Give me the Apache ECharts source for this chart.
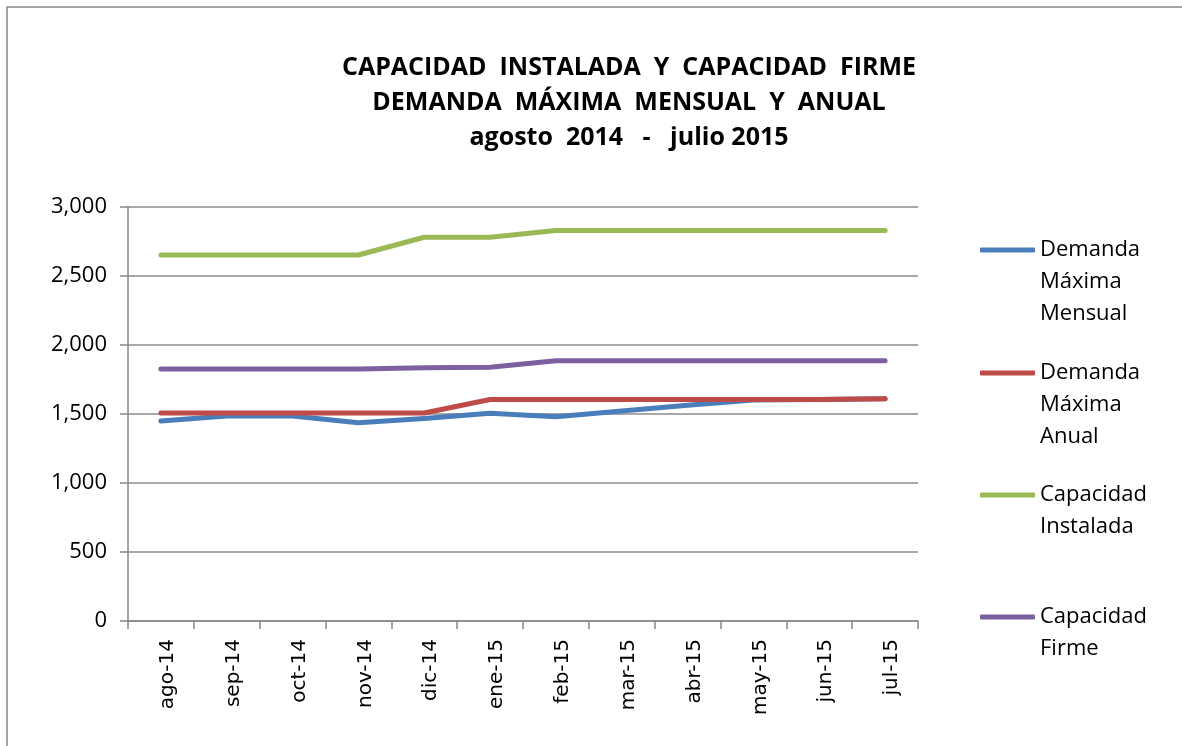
<!DOCTYPE html>
<html>
<head>
<meta charset="utf-8">
<title>Capacidad instalada y demanda</title>
<script src="https://cdn.jsdelivr.net/npm/echarts@6/dist/echarts.min.js"></script>
<style>
  html, body { margin: 0; padding: 0; background: #fff; }
  #chart { width: 1182px; height: 746px; }
</style>
</head>
<body>
<div id="chart"></div>
<script>
// categorias (meses)
var meses = ['ago-14', 'sep-14', 'oct-14', 'nov-14', 'dic-14', 'ene-15',
  'feb-15', 'mar-15', 'abr-15', 'may-15', 'jun-15', 'jul-15'];

// valores
var demandaMensual = [1449, 1486, 1486, 1437, 1468, 1505, 1480, 1522, 1563, 1602, 1605, 1610];
var demandaAnual = [1507, 1507, 1507, 1507, 1507, 1605, 1605, 1605, 1605, 1605, 1605, 1610];
var capInstalada = [2652, 2652, 2652, 2652, 2781, 2781, 2830, 2830, 2830, 2830, 2830, 2830];
var capFirme = [1826, 1826, 1826, 1826, 1836, 1838, 1886, 1886, 1886, 1886, 1886, 1886];

var nombres = ['Demanda Máxima Mensual', 'Demanda Máxima Anual', 'Capacidad Instalada', 'Capacidad Firme'];
// texto de la leyenda partido en lineas
var nombresLeyenda = [
  ['Demanda', 'Máxima', 'Mensual'],
  ['Demanda', 'Máxima', 'Anual'],
  ['Capacidad', 'Instalada'],
  ['Capacidad', 'Firme']
];
var colores = ['#4a7ebb', '#be4b48', '#98b954', '#7d60a0'];

var chart = echarts.init(document.getElementById('chart'));

var lh = 32;
var centrosLeyenda = [250, 373, 495, 617];

// una leyenda por serie, asi la linea queda junto a la primera linea del texto
var legends = nombres.map(function (n, i) {
  var lineas = nombresLeyenda[i];
  var total = lineas.length * 2 - 1;
  var pre = '';
  for (var k = 1; k < lineas.length; k++) pre += '\n';
  var texto = pre + lineas.join('\n');
  return {
    data: [n],
    orient: 'vertical',
    left: 980,
    top: centrosLeyenda[i] - total * lh / 2,
    padding: 0,
    icon: 'roundRect',
    itemWidth: 55,
    itemHeight: 5,
    itemGap: 0,
    formatter: function () { return texto; },
    textStyle: {
      fontFamily: 'Open Sans',
      fontSize: 22,
      lineHeight: lh,
      color: '#000'
    }
  };
});

var series = [demandaMensual, demandaAnual, capInstalada, capFirme].map(function (d, i) {
  return {
    name: nombres[i],
    type: 'line',
    data: d,
    symbol: 'none',
    color: colores[i],
    lineStyle: { width: 5, color: colores[i], cap: 'round', join: 'round' },
    animation: false
  };
});

var option = {
  animation: false,
  title: {
    text: 'CAPACIDAD  INSTALADA  Y  CAPACIDAD  FIRME\nDEMANDA  MÁXIMA  MENSUAL  Y  ANUAL\nagosto  2014   -   julio 2015',
    left: 629,
    top: 50,
    padding: 0,
    textAlign: 'center',
    textStyle: {
      fontFamily: 'Open Sans',
      fontWeight: 'bold',
      fontSize: 25,
      lineHeight: 35,
      color: '#000'
    }
  },
  legend: legends,
  graphic: [{
    type: 'rect',
    shape: { x: 7, y: 7, width: 1300, height: 1000 },
    style: { fill: 'none', stroke: '#888', lineWidth: 1.5 },
    silent: true
  }],
  grid: { left: 128, right: 264, top: 207, bottom: 125 },
  xAxis: {
    type: 'category',
    data: meses,
    boundaryGap: true,
    axisLine: { lineStyle: { color: '#868686', width: 1.5 } },
    axisTick: { show: true, length: 8, interval: 0, lineStyle: { color: '#868686', width: 1.5 } },
    axisLabel: {
      rotate: 90,
      interval: 0,
      margin: 18,
      verticalAlign: 'top',
      lineHeight: 14,
      fontFamily: 'DejaVu Sans',
      fontSize: 20,
      color: '#000'
    },
    splitLine: { show: false }
  },
  yAxis: {
    type: 'value',
    min: 0,
    max: 3000,
    interval: 500,
    axisLine: { show: true, lineStyle: { color: '#868686', width: 1.5 } },
    axisTick: { show: true, length: 8, lineStyle: { color: '#868686', width: 1.5 } },
    axisLabel: {
      margin: 21,
      fontFamily: 'Open Sans',
      fontSize: 22,
      color: '#000',
      formatter: function (v) { return v.toLocaleString('en-US'); }
    },
    splitLine: { lineStyle: { color: '#8c8c8c', width: 1.5 } }
  },
  series: series
};

chart.setOption(option);
</script>
</body>
</html>
